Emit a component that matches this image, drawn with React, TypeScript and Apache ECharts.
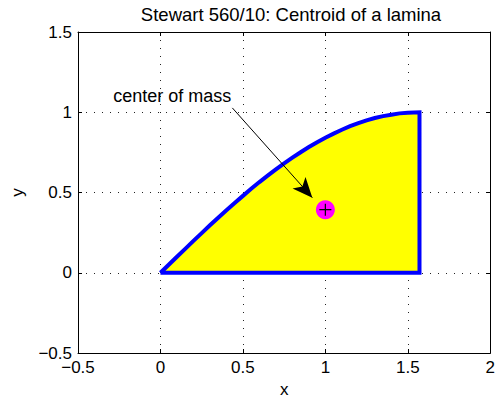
import React, { useEffect, useRef } from "react";
import * as echarts from "echarts";

const curveX = [0, 0.05, 0.1, 0.15, 0.2, 0.25, 0.3, 0.35, 0.4, 0.45, 0.5, 0.55, 0.6, 0.65, 0.7, 0.75, 0.8, 0.85, 0.9, 0.95, 1.0, 1.05, 1.1, 1.15, 1.2, 1.25, 1.3, 1.35, 1.4, 1.45, 1.5, 1.5708];
const curveY = [0, 0.050, 0.100, 0.149, 0.199, 0.247, 0.296, 0.343, 0.389, 0.435, 0.479, 0.523, 0.565, 0.605, 0.644, 0.682, 0.717, 0.751, 0.783, 0.813, 0.841, 0.867, 0.891, 0.913, 0.932, 0.949, 0.964, 0.976, 0.985, 0.993, 0.997, 1.0];
const closingX = [1.5708, 0];
const closingY = [0, 0];
const centroid = [1.0, 0.393];
const arrowStart = [0.436, 1.027];
const arrowEnd = [0.921, 0.468];
const labelPoint = [0.436, 1.1];
const labelText = "center of mass";
const titleText = "Stewart 560/10: Centroid of a lamina";

const FONT = "'Liberation Sans', Arial, Helvetica, sans-serif";

export default function App() {
  const ref = useRef<HTMLDivElement>(null);
  useEffect(() => {
    if (!ref.current) return;
    const chart = echarts.init(ref.current, undefined, { renderer: "svg" });
    const boundary: number[][] = [];
    curveX.forEach((x, i) => boundary.push([x, curveY[i]]));
    closingX.forEach((x, i) => boundary.push([x, closingY[i]]));

    const fmt = (v: number) => (v < 0 ? "\u2212" + String(-v) : String(v));
    const gridLine = { show: true, lineStyle: { color: "#222", width: 1, type: [1, 7] as any } };
    const axisLine = { show: true, onZero: false, lineStyle: { color: "#000", width: 1 } };
    const tick = { show: true, inside: true, length: 4, lineStyle: { color: "#000" } };

    chart.setOption({
      animation: false,
      backgroundColor: "#fff",
      title: {
        text: titleText,
        left: 286,
        top: 0,
        textAlign: "center",
        textStyle: { fontFamily: FONT, fontSize: 18.5, fontWeight: "normal", color: "#000" },
      },
      grid: { left: 78, right: 7, top: 32, bottom: 51, containLabel: false },
      xAxis: [
        {
          type: "value", min: -0.5, max: 2, interval: 0.5, position: "bottom",
          name: "x", nameLocation: "middle", nameGap: 27,
          nameTextStyle: { fontFamily: FONT, fontSize: 17, color: "#000" },
          axisLine, axisTick: tick, splitLine: gridLine,
          axisLabel: { fontFamily: FONT, fontSize: 17, color: "#000", margin: 6, formatter: fmt,
            showMaxLabel: true, showMinLabel: true },
        },
        {
          type: "value", min: -0.5, max: 2, interval: 0.5, position: "top",
          axisLine, axisTick: tick, splitLine: { show: false }, axisLabel: { show: false },
        },
      ],
      yAxis: [
        {
          type: "value", min: -0.5, max: 1.5, interval: 0.5, position: "left",
          name: "y", nameLocation: "middle", nameGap: 52, nameRotate: 90,
          nameTextStyle: { fontFamily: FONT, fontSize: 17, color: "#000" },
          axisLine, axisTick: tick, splitLine: gridLine,
          axisLabel: { fontFamily: FONT, fontSize: 17, color: "#000", margin: 6, formatter: fmt },
        },
        {
          type: "value", min: -0.5, max: 1.5, interval: 0.5, position: "right",
          axisLine, axisTick: tick, splitLine: { show: false }, axisLabel: { show: false },
        },
      ],
      series: [
        {
          type: "line",
          data: boundary,
          symbol: "none",
          lineStyle: { color: "#0000ff", width: 4, join: "miter" },
          areaStyle: { color: "#ffff00", opacity: 1 },
          z: 2,
          markLine: {
            silent: true,
            symbol: ["none", "arrow"],
            lineStyle: { color: "#000", width: 1, type: "solid" },
            label: { show: false },
            data: [[
              { coord: arrowStart, symbol: "none" },
              { coord: arrowEnd, symbol: "arrow", symbolSize: [13, 20] },
            ]],
          },
        },
        {
          type: "scatter",
          data: [centroid],
          symbol: "circle",
          symbolSize: 19,
          itemStyle: { color: "#ff00ff", opacity: 1 },
          z: 3,
        },
        {
          type: "scatter",
          data: [centroid],
          symbol: "path://M0,6L12,6M6,0L6,12",
          symbolSize: 12,
          itemStyle: { color: "none", borderColor: "#000", borderWidth: 1.2, opacity: 1 },
          z: 4,
        },
        {
          type: "scatter",
          data: [labelPoint],
          symbolSize: 2,
          itemStyle: { color: "rgba(0,0,0,0)" },
          label: {
            show: true, position: "left", distance: 0, formatter: labelText,
            fontFamily: FONT, fontSize: 18, color: "#000", opacity: 1,
          },
          z: 5,
        },
      ],
    });
    return () => chart.dispose();
  }, []);
  return <div ref={ref} style={{ position: "absolute", left: 0, top: 0, width: 498, height: 404 }} />;
}
